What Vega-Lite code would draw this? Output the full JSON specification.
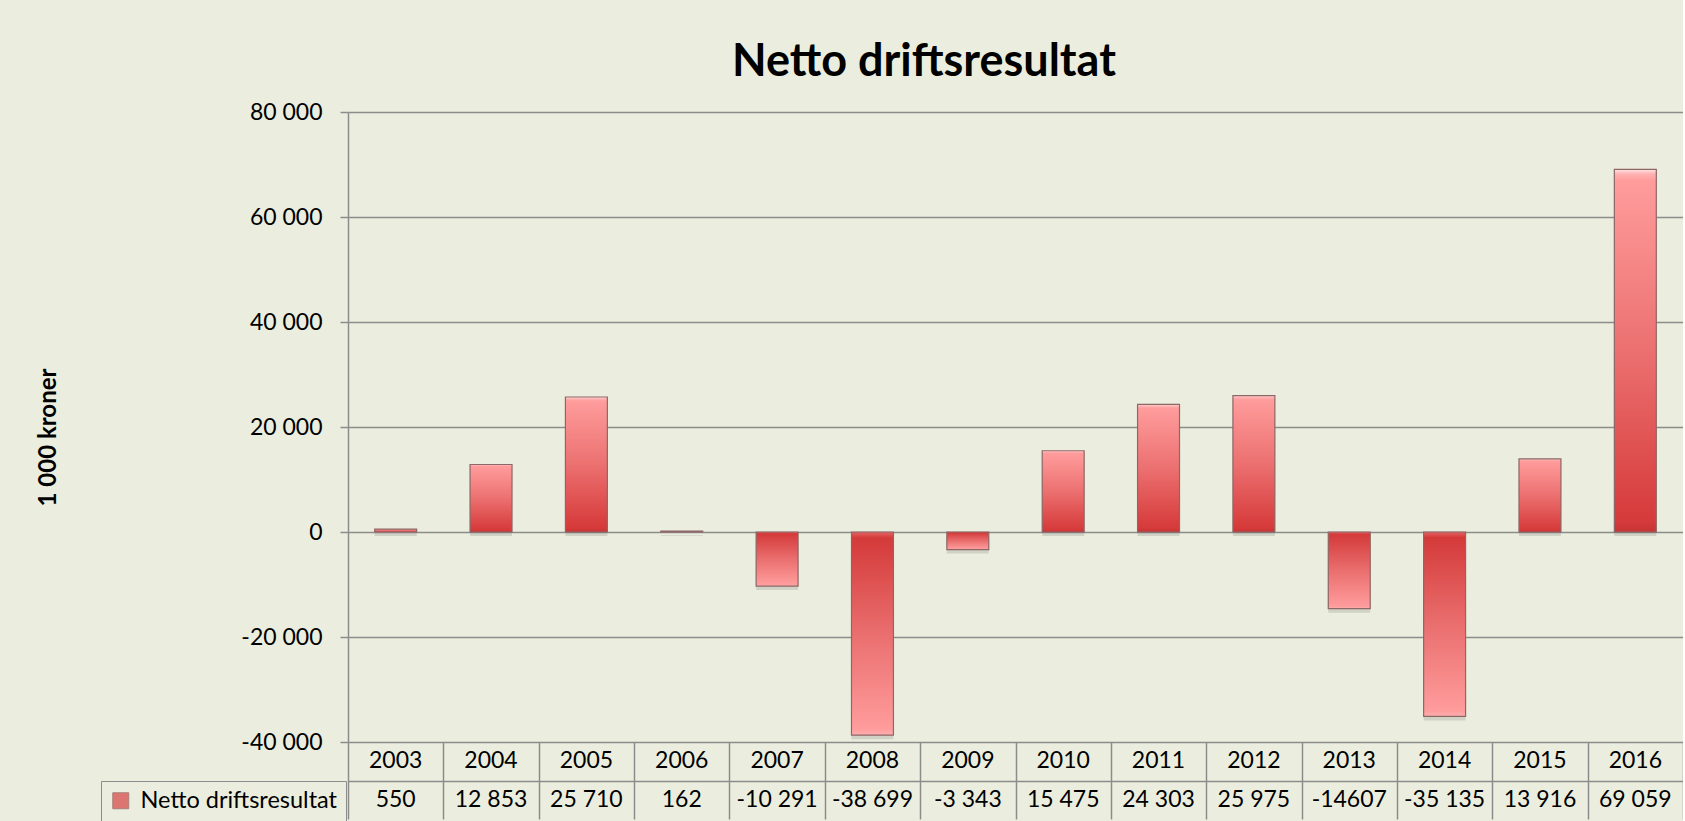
{
  "$schema": "https://vega.github.io/schema/vega-lite/v6.json",
  "background": "#EBEEDE",
  "padding": {"left": 36, "top": 40, "right": 0, "bottom": 0},
  "autosize": {"type": "pad"},
  "title": {
    "text": "Netto driftsresultat",
    "font": "Lato",
    "fontSize": 45,
    "fontWeight": "bold",
    "color": "#000000",
    "anchor": "middle",
    "frame": "bounds",
    "dx": 64,
    "offset": 16
  },
  "datasets": {
    "netto": [
      {"year": 2003, "value": 550, "label": "550"},
      {"year": 2004, "value": 12853, "label": "12 853"},
      {"year": 2005, "value": 25710, "label": "25 710"},
      {"year": 2006, "value": 162, "label": "162"},
      {"year": 2007, "value": -10291, "label": "-10 291"},
      {"year": 2008, "value": -38699, "label": "-38 699"},
      {"year": 2009, "value": -3343, "label": "-3 343"},
      {"year": 2010, "value": 15475, "label": "15 475"},
      {"year": 2011, "value": 24303, "label": "24 303"},
      {"year": 2012, "value": 25975, "label": "25 975"},
      {"year": 2013, "value": -14607, "label": "-14607"},
      {"year": 2014, "value": -35135, "label": "-35 135"},
      {"year": 2015, "value": 13916, "label": "13 916"},
      {"year": 2016, "value": 69059, "label": "69 059"}
    ]
  },
  "spacing": 0,
  "bounds": "flush",
  "vconcat": [
    {
      "width": 1335,
      "height": 630,
      "data": {"name": "netto"},
      "encoding": {
        "x": {
          "field": "year",
          "type": "ordinal",
          "axis": null,
          "scale": {"paddingInner": 0.56, "paddingOuter": 0.28}
        },
        "y": {
          "field": "value",
          "type": "quantitative",
          "scale": {"domain": [-40000, 80000], "nice": false, "zero": true},
          "axis": {
            "values": [-40000, -20000, 0, 20000, 40000, 60000, 80000],
            "labelExpr": "datum.value == 0 ? '0' : (datum.value < 0 ? '-' : '') + format(abs(datum.value) / 1000, 'd') + ' 000'",
            "title": "1 000 kroner",
            "titleFont": "Lato",
            "titleFontSize": 24,
            "titleFontWeight": "bold",
            "titleColor": "#000000",
            "titlePadding": 180,
            "titleY": 325,
            "labelFont": "Lato",
            "labelFontSize": 23,
            "labelColor": "#000000",
            "labelPadding": 18,
            "labelFlush": false,
            "labelOverlap": false,
            "tickSize": 8,
            "tickColor": "#8C8C8C",
            "tickWidth": 1.5,
            "domainColor": "#8C8C8C",
            "domainWidth": 1.5,
            "grid": true,
            "gridColor": "#8C8C8C",
            "gridWidth": 1.5
          }
        }
      },
      "layer": [
        {
          "mark": {"type": "bar", "color": "#555555", "opacity": 0.18, "yOffset": 4}
        },
        {
          "transform": [{"filter": "datum.value >= 0"}],
          "mark": {
            "type": "bar",
            "stroke": "#8E6666",
            "strokeWidth": 1.2,
            "color": {
              "gradient": "linear",
              "x1": 0, "y1": 0, "x2": 0, "y2": 1,
              "stops": [
                {"offset": 0, "color": "#FFE4E4"},
                {"offset": 0.012, "color": "#FFB4B4"},
                {"offset": 0.03, "color": "#FF9C9C"},
                {"offset": 0.5, "color": "#EC7070"},
                {"offset": 0.97, "color": "#D63A3A"},
                {"offset": 1, "color": "#C63434"}
              ]
            }
          }
        },
        {
          "transform": [{"filter": "datum.value < 0"}],
          "mark": {
            "type": "bar",
            "stroke": "#8E6666",
            "strokeWidth": 1.2,
            "color": {
              "gradient": "linear",
              "x1": 0, "y1": 0, "x2": 0, "y2": 1,
              "stops": [
                {"offset": 0, "color": "#E46464"},
                {"offset": 0.03, "color": "#D43A3A"},
                {"offset": 0.5, "color": "#EA6E6E"},
                {"offset": 0.97, "color": "#FF9C9C"},
                {"offset": 1, "color": "#FFB0B0"}
              ]
            }
          }
        }
      ]
    },
    {
      "width": 1335,
      "height": 77,
      "data": {"name": "netto"},
      "encoding": {
        "x": {
          "field": "year",
          "type": "ordinal",
          "scale": {"paddingInner": 0, "paddingOuter": 0},
          "axis": {
            "orient": "top",
            "grid": true,
            "tickBand": "extent",
            "gridColor": "#8C8C8C",
            "gridWidth": 1.5,
            "labels": false,
            "ticks": false,
            "domain": false,
            "title": null,
            "minExtent": 0
          }
        }
      },
      "layer": [
        {
          "mark": {"type": "text", "font": "Lato", "fontSize": 23, "color": "#000000"},
          "encoding": {
            "text": {"field": "year", "type": "ordinal"},
            "y": {
              "datum": "years",
              "type": "nominal",
              "scale": {"type": "band", "domain": ["years", "values"], "paddingInner": 0, "paddingOuter": 0},
              "axis": {
                "grid": true,
                "tickBand": "extent",
                "gridColor": {"condition": {"test": "datum.value === 'years'", "value": "#8C8C8C"}, "value": "rgba(0,0,0,0)"},
                "gridWidth": 1.5,
                "labels": false,
                "ticks": false,
                "domain": false,
                "title": null,
                "minExtent": 0
              }
            }
          }
        },
        {
          "mark": {"type": "text", "font": "Lato", "fontSize": 23, "color": "#000000"},
          "encoding": {
            "text": {"field": "label", "type": "nominal"},
            "y": {"datum": "values", "type": "nominal"}
          }
        },
        {
          "transform": [{"filter": "false"}],
          "mark": {"type": "square", "filled": true},
          "encoding": {
            "fill": {
              "datum": "Netto driftsresultat",
              "type": "nominal",
              "scale": {"range": ["#D64141"]},
              "legend": {
                "orient": "none",
                "legendX": -247,
                "legendY": 669,
                "title": null,
                "padding": 8,
                "strokeColor": "#8C8C8C",
                "symbolType": "square",
                "symbolSize": 256,
                "symbolStrokeColor": "#8E5050",
                "symbolStrokeWidth": 1,
                "labelFont": "Lato",
                "labelFontSize": 23.5,
                "labelColor": "#000000",
                "labelOffset": 8,
                "labelLimit": 400
              }
            }
          }
        }
      ]
    }
  ],
  "config": {
    "view": {"stroke": null},
    "font": "Lato"
  }
}
